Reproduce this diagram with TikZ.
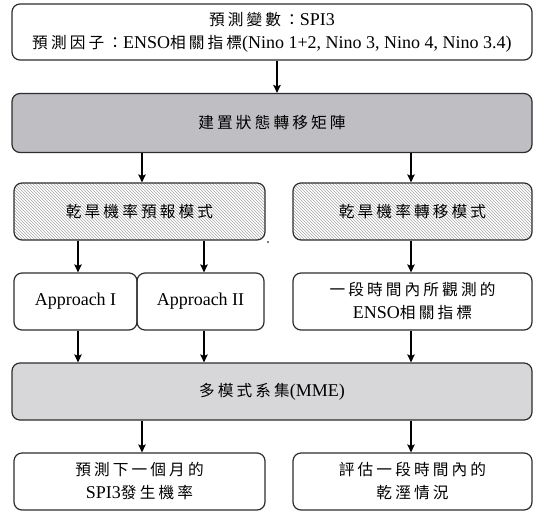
\documentclass[tikz,border=0pt]{standalone}
\usepackage{fontspec}
\setmainfont{Liberation Serif}
\newfontfamily\cjk[Scale=0.87,LetterSpace=20]{Noto Sans CJK TC}
\usetikzlibrary{arrows.meta,patterns}
\definecolor{boxline}{RGB}{45,45,45}
\definecolor{darkfill}{RGB}{190,190,195}
\definecolor{lightfill}{RGB}{215,215,218}
\tikzset{
  box/.style={draw=boxline,line width=1.2pt,rounded corners=8pt,align=center,
    inner sep=0pt,font=\fontsize{18}{23}\selectfont},
  hatchbox/.style={box,pattern=north west lines,pattern color=gray!70},
  arr/.style={draw=black,line width=1.3pt,-{Stealth[length=8pt,width=7.5pt,inset=1.5pt]}}
}
\begin{document}
\begin{tikzpicture}[x=1pt,y=-1pt]
\useasboundingbox (0,0) rectangle (537,514);
\node[box,minimum width=520,minimum height=56] (top) at (272,32)
  {{\cjk 預測變數：}SPI3\\{\cjk 預測因子：}ENSO{\cjk 相關指標}(Nino 1+2, Nino 3, Nino 4, Nino 3.4)};
\node[box,fill=darkfill,minimum width=520,minimum height=59] (mat) at (272,123) {\cjk 建置狀態轉移矩陣};
\node[hatchbox,minimum width=251,minimum height=57] (hl) at (139.5,211.5) {\cjk 乾旱機率預報模式};
\node[hatchbox,minimum width=239,minimum height=57] (hr) at (412.5,211.5) {\cjk 乾旱機率轉移模式};
\fill[gray] (266.5,241) rectangle (268.5,243);
\node[box,minimum width=123,minimum height=57] (a1) at (75.5,301.5) {Approach I};
\node[box,minimum width=127,minimum height=57] (a2) at (200.5,301.5) {Approach II};
\node[box,minimum width=239,minimum height=57] (obs) at (412.5,301.5) {{\cjk 一段時間內所觀測的}\\ENSO{\cjk 相關指標}};
\node[box,fill=lightfill,minimum width=520,minimum height=57] (mme) at (272,391.5) {{\cjk 多模式系集}(MME)};
\node[box,minimum width=251,minimum height=57] (bl) at (139.5,481.5) {{\cjk 預測下一個月的}\\SPI3{\cjk 發生機率}};
\node[box,minimum width=239,minimum height=57] (br) at (412.5,481.5) {{\cjk 評估一段時間內的}\\{\cjk 乾溼情況}};
\draw[arr] (top.south -| 277,0) -- (mat.north -| 277,0);
\draw[arr] (mat.south -| 142,0) -- (hl.north -| 142,0);
\draw[arr] (mat.south -| 411,0) -- (hr.north -| 411,0);
\draw[arr] (hl.south -| 78,0) -- (a1.north -| 78,0);
\draw[arr] (hl.south -| 204,0) -- (a2.north -| 204,0);
\draw[arr] (hr.south -| 411,0) -- (obs.north -| 411,0);
\draw[arr] (a1.south -| 78,0) -- (mme.north -| 78,0);
\draw[arr] (a2.south -| 204,0) -- (mme.north -| 204,0);
\draw[arr] (obs.south -| 411,0) -- (mme.north -| 411,0);
\draw[arr] (mme.south -| 142,0) -- (bl.north -| 142,0);
\draw[arr] (mme.south -| 411,0) -- (br.north -| 411,0);
\end{tikzpicture}
\end{document}
